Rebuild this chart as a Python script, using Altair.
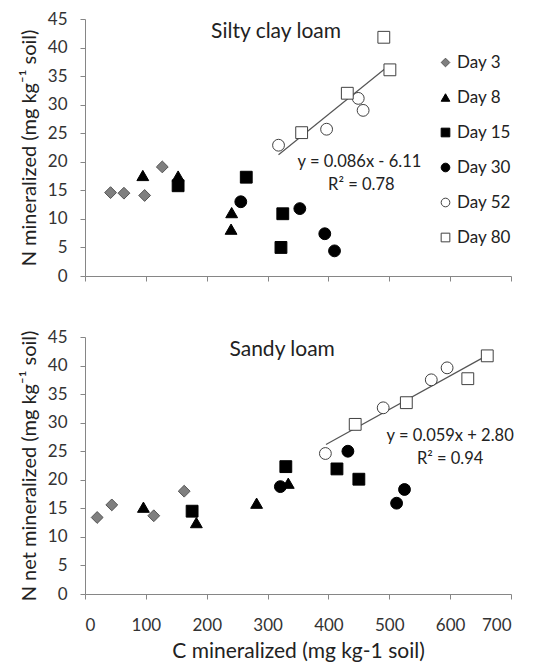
import altair as alt
import pandas as pd

FONT = "Lato"

days = ["Day 3", "Day 8", "Day 15", "Day 30", "Day 52", "Day 80"]
shapes = ["diamond", "triangle-up", "square", "circle", "circle", "square"]
fills = ["#7f7f7f", "#000000", "#000000", "#000000", "#ffffff", "#ffffff"]
strokes = ["#555555", "#000000", "#000000", "#000000", "#404040", "#404040"]

# Silty clay loam
scl_day = ["Day 3"] * 4 + ["Day 8"] * 4 + ["Day 15"] * 4 + ["Day 30"] * 4 + ["Day 52"] * 4 + ["Day 80"] * 4
scl_c = [42, 64, 98, 127, 95, 153, 241, 240, 153, 265, 325, 322,
         256, 353, 394, 410, 318, 397, 449, 457, 356, 431, 491, 501]
scl_n = [14.6, 14.5, 14.1, 19.1, 17.6, 17.5, 11.1, 8.2, 15.8, 17.3, 10.9, 5.0,
         13.0, 11.8, 7.4, 4.4, 22.9, 25.7, 31.1, 29.0, 25.1, 32.0, 41.8, 36.1]

# Sandy loam
sl_day = scl_day
sl_c = [20, 44, 113, 163, 96, 183, 282, 334, 176, 330, 414, 450,
        321, 432, 512, 525, 395, 490, 569, 595, 444, 528, 629, 661]
sl_n = [13.4, 15.6, 13.7, 18.0, 15.2, 12.5, 15.9, 19.4, 14.5, 22.3, 21.9, 20.1,
        18.8, 25.0, 15.9, 18.3, 24.6, 32.6, 37.5, 39.6, 29.7, 33.5, 37.7, 41.7]

# Trend lines (Day 52 + Day 80)
scl_slope, scl_icpt, scl_xr = 0.086, -6.11, [318, 497]
sl_slope, sl_icpt, sl_xr = 0.059, 2.80, [396, 663]

x_ticks = [0, 100, 200, 300, 400, 500, 600, 700]
y_ticks = [0, 5, 10, 15, 20, 25, 30, 35, 40, 45]

W, H = 426, 257


def panel(c, n, day, slope, icpt, xr, title, title_xy, eq, eq_xy, r2, r2_xy,
          ytitle, show_legend, show_xlabels):
    df = pd.DataFrame({"c": c, "n": n, "day": day})
    if show_xlabels:
        xaxis = alt.Axis(values=x_ticks, labelOverlap=False, labelPadding=18,
                         titlePadding=7, titleFontSize=21,
                         title="C mineralized  (mg kg-1 soil)")
    else:
        xaxis = alt.Axis(values=x_ticks, labels=False, title=None)
    x = alt.X("c:Q", scale=alt.Scale(domain=[0, 700], nice=False), axis=xaxis)
    y = alt.Y("n:Q", scale=alt.Scale(domain=[0, 45], nice=False),
              axis=alt.Axis(values=y_ticks, labelOverlap=False, title=ytitle,
                            labelPadding=13, titlePadding=8))
    if show_legend:
        leg = alt.Legend(title=None, orient="none", legendX=352, legendY=35,
                         labelFontSize=17, labelFont=FONT, labelColor="#222222",
                         symbolSize=75, rowPadding=17, symbolStrokeWidth=1,
                         labelOffset=3)
    else:
        leg = None
    enc_shape = alt.Shape("day:N", scale=alt.Scale(domain=days, range=shapes), legend=leg)
    enc_fill = alt.Fill("day:N", scale=alt.Scale(domain=days, range=fills), legend=leg)
    enc_stroke = alt.Stroke("day:N", scale=alt.Scale(domain=days, range=strokes), legend=leg)

    ldf = pd.DataFrame({"c": xr, "n": [slope * v + icpt for v in xr]})
    line = alt.Chart(ldf).mark_line(color="#555555", strokeWidth=1.2).encode(x=x, y=y)

    pts = alt.Chart(df).mark_point(filled=True, size=140, strokeWidth=1, opacity=1).encode(
        x=x, y=y, shape=enc_shape, fill=enc_fill, stroke=enc_stroke)

    tdf = pd.DataFrame({"c": [title_xy[0], eq_xy[0], r2_xy[0]],
                        "n": [title_xy[1], eq_xy[1], r2_xy[1]],
                        "t": [title, eq, r2],
                        "s": [21, 16.5, 16.5]})
    txt = alt.Chart(tdf).mark_text(font=FONT, color="#222222", align="center",
                                   baseline="middle").encode(
        x=x, y=y, text="t:N", size=alt.Size("s:Q", scale=None))
    return alt.layer(line, pts, txt).properties(width=W, height=H)


top = panel(scl_c, scl_n, scl_day, scl_slope, scl_icpt, scl_xr,
            "Silty clay loam", (314, 42.7),
            "y = 0.086x - 6.11", (451, 19.9), "R\u00b2 = 0.78", (454, 16.0),
            "N mineralized  (mg kg\u207b\u00b9 soil)", True, False)
bottom = panel(sl_c, sl_n, sl_day, sl_slope, sl_icpt, sl_xr,
               "Sandy loam", (324, 42.7),
               "y = 0.059x + 2.80", (600, 27.6), "R\u00b2 = 0.94", (600, 23.6),
               "N net mineralized  (mg kg\u207b\u00b9 soil)", False, True)

chart = alt.vconcat(top, bottom, spacing=43).resolve_scale(
    shape="independent", fill="independent", stroke="independent"
).properties(
    padding={"left": 19, "top": 10, "right": 5, "bottom": 5},
    background="white"
).configure_view(strokeWidth=0).configure_axis(
    grid=False, domainColor="#868686", tickColor="#868686", tickSize=5,
    labelFont=FONT, labelFontSize=17, labelColor="#333333",
    titleFont=FONT, titleFontSize=20, titleFontWeight="normal", titleColor="#222222"
)

chart.save("out.html", embed_options={"renderer": "svg", "actions": False})
